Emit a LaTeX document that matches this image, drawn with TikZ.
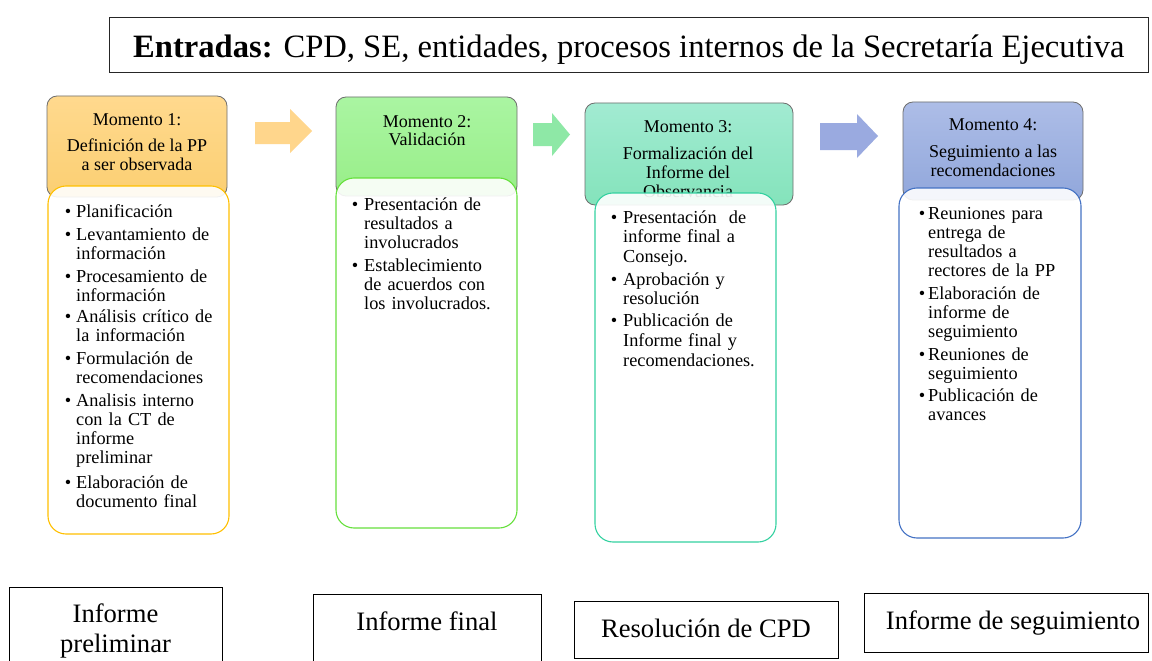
\documentclass[tikz,border=0pt]{standalone}
\usepackage{fontspec}
\setmainfont{Liberation Serif}
\definecolor{hdrgray}{HTML}{6E6E6E}
\definecolor{hAt}{HTML}{FFD98E}\definecolor{hAb}{HTML}{FBCF72}
\definecolor{hBt}{HTML}{AAF5A2}\definecolor{hBb}{HTML}{98EE88}
\definecolor{hCt}{HTML}{A2EBD2}\definecolor{hCb}{HTML}{84E3BB}
\definecolor{hDt}{HTML}{ADBDE7}\definecolor{hDb}{HTML}{91A7DB}
\definecolor{bA}{HTML}{FFC000}\definecolor{bB}{HTML}{66E03C}
\definecolor{bC}{HTML}{33D1A0}\definecolor{bD}{HTML}{4472C4}
\definecolor{arA}{HTML}{FFD68C}\definecolor{arB}{HTML}{8EE8A6}
\definecolor{arC}{HTML}{9AAAE0}
\tikzset{
  hdr/.style={draw=hdrgray, line width=0.8pt, rounded corners=10pt},
  bodybox/.style={fill=white, fill opacity=0.9, line width=1.1pt, rounded corners=18pt},
  htxt/.style={font=\fontsize{18}{19}\selectfont, anchor=base, inner sep=0pt},
  itm/.style={font=\fontsize{18.3}{19}\selectfont, anchor=base west, inner sep=0pt, align=left, text width=200pt},
  itmc/.style={font=\fontsize{18.3}{19.7}\selectfont, anchor=base west, inner sep=0pt, align=left, text width=200pt},
  bul/.style={font=\fontsize{18.3}{19}\selectfont, anchor=base, inner sep=0pt},
  outbox/.style={draw=black, line width=0.9pt},
  outtxt/.style={font=\fontsize{26.6}{30}\selectfont, anchor=base, inner sep=0pt}
}
\begin{document}
\begin{tikzpicture}[x=1pt,y=-1pt]
\clip (0,0) rectangle (1152,661);
\fill[white] (0,0) rectangle (1152,661);

% title
\draw[line width=0.9pt, draw=black!85] (109,17) rectangle (1148,72);
\node[anchor=base west, inner sep=0pt, font=\fontsize{32.6}{36}\selectfont] (title) at (133,58)
  {\textbf{Entradas:} CPD, SE, entidades, procesos internos de la Secretaría Ejecutiva};

% arrows
\fill[arA] (255,122) -- (290,122) -- (290,109) -- (312,131) -- (290,153) -- (290,144) -- (255,144) -- cycle;
\fill[arB] (533,123) -- (552,123) -- (552,113) -- (570,134.5) -- (552,156) -- (552,146) -- (533,146) -- cycle;
\fill[arC] (820,123) -- (857,123) -- (857,114) -- (878,136) -- (857,158) -- (857,150) -- (820,150) -- cycle;

% Moment 1
\shade[hdr, top color=hAt, bottom color=hAb] (47,96) rectangle (227,197);
\node[htxt] (m1a) at (137,125) {Momento 1:};
\node[htxt] (m1b) at (137,151.5) {Definición de la PP};
\node[htxt] (m1c) at (137,170) {a ser observada};
\draw[bodybox, draw=bA] (48,186) rectangle (229,534);
\node[bul] (b1a) at (68,217) {•};
\node[itm] (i1a) at (76,217) {Planificación};
\node[bul] (b1b) at (68,240) {•};
\node[itm] (i1b) at (76,240) {Levantamiento de\\información};
\node[bul] (b1c) at (68,282) {•};
\node[itm] (i1c) at (76,282) {Procesamiento de\\información};
\node[bul] (b1d) at (68,322) {•};
\node[itm] (i1d) at (76,322) {Análisis crítico de\\la información};
\node[bul] (b1e) at (68,364.5) {•};
\node[itm] (i1e) at (76,364.5) {Formulación de\\recomendaciones};
\node[bul] (b1f) at (68,406.5) {•};
\node[itm] (i1f) at (76,406.5) {Analisis interno\\con la CT de\\informe\\preliminar};
\node[bul] (b1g) at (68,488) {•};
\node[itm] (i1g) at (76,488) {Elaboración de\\documento final};

% Moment 2
\shade[hdr, top color=hBt, bottom color=hBb] (336,97) rectangle (517,196);
\node[htxt] (m2a) at (427,127.5) {Momento 2:};
\node[htxt] (m2b) at (427,146) {Validación};
\draw[bodybox, draw=bB] (336,178) rectangle (517,528);
\node[bul] (b2a) at (355,210) {•};
\node[itm] (i2a) at (364,210) {Presentación de\\resultados a\\involucrados};
\node[bul] (b2b) at (355,271.7) {•};
\node[itm] (i2b) at (364,271.7) {Establecimiento\\de acuerdos con\\los involucrados.};

% Moment 3
\shade[hdr, top color=hCt, bottom color=hCb] (585,103) rectangle (793,205);
\node[htxt] (m3a) at (688,132) {Momento 3:};
\node[htxt] (m3b) at (688,159) {Formalización del};
\node[htxt] (m3c) at (688,178) {Informe del};
\node[htxt] (m3d) at (688,197) {Observancia};
\draw[bodybox, draw=bC] (595,193) rectangle (776,542);
\node[bul] (b3a) at (614,223) {•};
\node[itmc] (i3a) at (623,223) {Presentación\ \ de\\informe final a\\Consejo.};
\node[bul] (b3b) at (614,285) {•};
\node[itmc] (i3b) at (623,285) {Aprobación y\\resolución};
\node[bul] (b3c) at (614,326.7) {•};
\node[itmc] (i3c) at (623,326.7) {Publicación de\\Informe final y\\recomendaciones.};

% Moment 4
\shade[hdr, top color=hDt, bottom color=hDb] (903,102) rectangle (1083,200);
\node[htxt] (m4a) at (993,131) {Momento 4:};
\node[htxt] (m4b) at (993,157) {Seguimiento a las};
\node[htxt] (m4c) at (993,176) {recomendaciones};
\draw[bodybox, draw=bD] (899,188) rectangle (1081,538);
\node[bul] (b4a) at (922,219.3) {•};
\node[itm] (i4a) at (928,219.3) {Reuniones para\\entrega de\\resultados a\\rectores de la PP};
\node[bul] (b4b) at (922,299) {•};
\node[itm] (i4b) at (928,299) {Elaboración de\\informe de\\seguimiento};
\node[bul] (b4c) at (922,360) {•};
\node[itm] (i4c) at (928,360) {Reuniones de\\seguimiento};
\node[bul] (b4d) at (922,401.7) {•};
\node[itm] (i4d) at (928,401.7) {Publicación de\\avances};

% outputs
\draw[outbox] (9,587) rectangle (222,680);
\node[outtxt] (o1a) at (115.5,622) {Informe};
\node[outtxt] (o1b) at (115.5,652) {preliminar};
\draw[outbox] (313,594) rectangle (541,680);
\node[outtxt] (o2) at (427,630) {Informe final};
\draw[outbox] (574,601) rectangle (838,658);
\node[outtxt] (o3) at (706,637) {Resolución de CPD};
\draw[outbox] (864,593) rectangle (1148,652);
\node[outtxt] (o4) at (1013,629) {Informe de seguimiento};
\end{tikzpicture}
\end{document}
